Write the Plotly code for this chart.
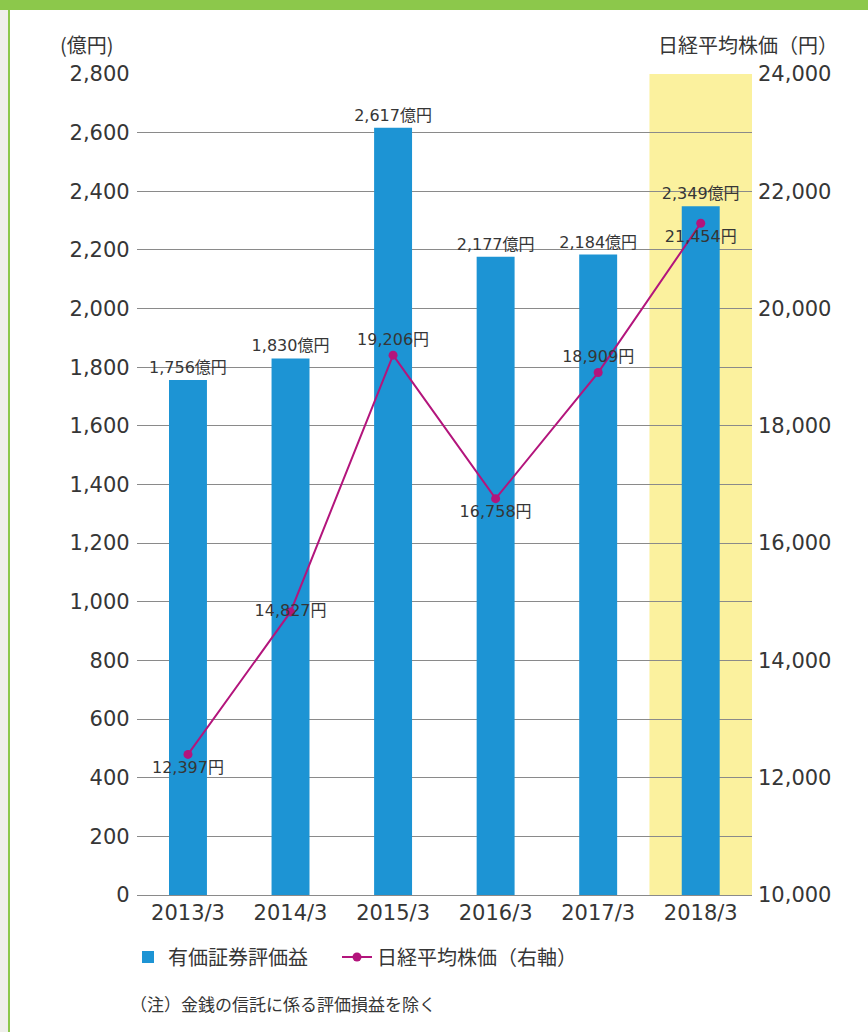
import plotly.graph_objects as go

categories = ["2013/3", "2014/3", "2015/3", "2016/3", "2017/3", "2018/3"]
securities_gain = [1756, 1830, 2617, 2177, 2184, 2349]  # 億円
nikkei = [12397, 14827, 19206, 16758, 18909, 21454]  # 円
left_ticks = list(range(0, 2801, 200))
right_ticks = list(range(10000, 24001, 2000))
bar_name = "有価証券評価益"
line_name = "日経平均株価（右軸）"
left_title = "(億円)"
right_title = "日経平均株価（円）"
note = "（注）金銭の信託に係る評価損益を除く"

FONT = "DejaVu Sans, Noto Sans CJK JP"
JFONT = "Noto Sans CJK JP"
TXT = "#363636"
BLUE = "#1d94d4"
MAG = "#b3157c"

W, H = 868, 1032
x0p, x1p = 136.7 / W, 752 / W
y0p, y1p = (H - 895) / H, (H - 74) / H

fig = go.Figure()

fig.add_trace(go.Bar(
    x=categories, y=securities_gain, name=bar_name, legend="legend",
    marker=dict(color=BLUE, line=dict(width=0)),
    width=0.37,
    text=[f"{v:,}億円" for v in securities_gain],
    textposition="outside", cliponaxis=False, constraintext="none",
    textfont=dict(family=FONT, size=16, color=TXT),
    yaxis="y",
))

line_pos = ["bottom center", "middle center", "top center",
            "bottom center", "top center", "bottom center"]
fig.add_trace(go.Scatter(
    x=categories, y=nikkei, name=line_name, yaxis="y2", legend="legend2",
    mode="lines+markers+text",
    line=dict(color=MAG, width=2),
    marker=dict(color=MAG, size=9),
    text=[f"{v:,}円" for v in nikkei],
    textposition=line_pos, cliponaxis=False,
    textfont=dict(family=FONT, size=16, color=TXT),
))

shapes = [
    dict(type="rect", xref="x", yref="paper", x0=4.5, x1=5.5, y0=y0p, y1=y1p,
         fillcolor="#fbf19e", line=dict(width=0), layer="below"),
    dict(type="rect", xref="paper", yref="paper", x0=0, x1=8 / W, y0=0, y1=1,
         fillcolor="#efefeb", line=dict(width=0), layer="below"),
    dict(type="rect", xref="paper", yref="paper", x0=8 / W, x1=10 / W, y0=0, y1=1,
         fillcolor="#8cc84b", line=dict(width=0), layer="below"),
    dict(type="rect", xref="paper", yref="paper", x0=0, x1=1, y0=(H - 10) / H, y1=1,
         fillcolor="#8cc84b", line=dict(width=0), layer="above"),
]

annotations = [
    dict(text=left_title, xref="paper", yref="paper", x=58 / W, y=(H - 45) / H,
         xanchor="left", yanchor="middle", showarrow=False,
         font=dict(family=JFONT, size=20, color=TXT)),
    dict(text=right_title, xref="paper", yref="paper", x=840 / W, y=(H - 45) / H,
         xanchor="right", yanchor="middle", showarrow=False,
         font=dict(family=JFONT, size=20, color=TXT)),
    dict(text=note, xref="paper", yref="paper", x=128 / W, y=(H - 1003) / H,
         xanchor="left", yanchor="middle", showarrow=False,
         font=dict(family=JFONT, size=17, color=TXT)),
]

legend_common = dict(orientation="h", y=(H - 957) / H, xanchor="left", yanchor="middle",
                     font=dict(family=JFONT, size=20, color=TXT), itemwidth=30,
                     bgcolor="rgba(0,0,0,0)")

fig.update_layout(
    width=W, height=H,
    margin=dict(l=0, r=0, t=0, b=0, autoexpand=False),
    paper_bgcolor="white", plot_bgcolor="rgba(0,0,0,0)",
    font=dict(family=FONT, color=TXT),
    showlegend=True,
    legend=dict(x=128 / W, **legend_common),
    legend2=dict(x=337 / W, **legend_common),
    xaxis=dict(domain=[x0p, x1p], showgrid=False, zeroline=False, showline=False,
               ticks="", automargin=False,
               tickfont=dict(family=FONT, size=21, color=TXT),
               ticklabelstandoff=3),
    yaxis=dict(domain=[y0p, y1p], range=[0, 2800], tickvals=left_ticks,
               ticktext=[f"{v:,}" for v in left_ticks],
               showgrid=True, gridcolor="#8a8a8a", gridwidth=1,
               zeroline=True, zerolinecolor="#8a8a8a", zerolinewidth=1,
               showline=False, ticks="", automargin=False,
               tickfont=dict(family=FONT, size=21, color=TXT),
               ticklabelstandoff=6),
    yaxis2=dict(domain=[y0p, y1p], range=[10000, 24000], tickvals=right_ticks,
                ticktext=[f"{v:,}" for v in right_ticks],
                overlaying="y", side="right", anchor="x",
                showgrid=False, zeroline=False, showline=False, ticks="",
                automargin=False,
                tickfont=dict(family=FONT, size=21, color=TXT),
                ticklabelstandoff=5),
    shapes=shapes,
    annotations=annotations,
)

fig.write_html("out.html")
